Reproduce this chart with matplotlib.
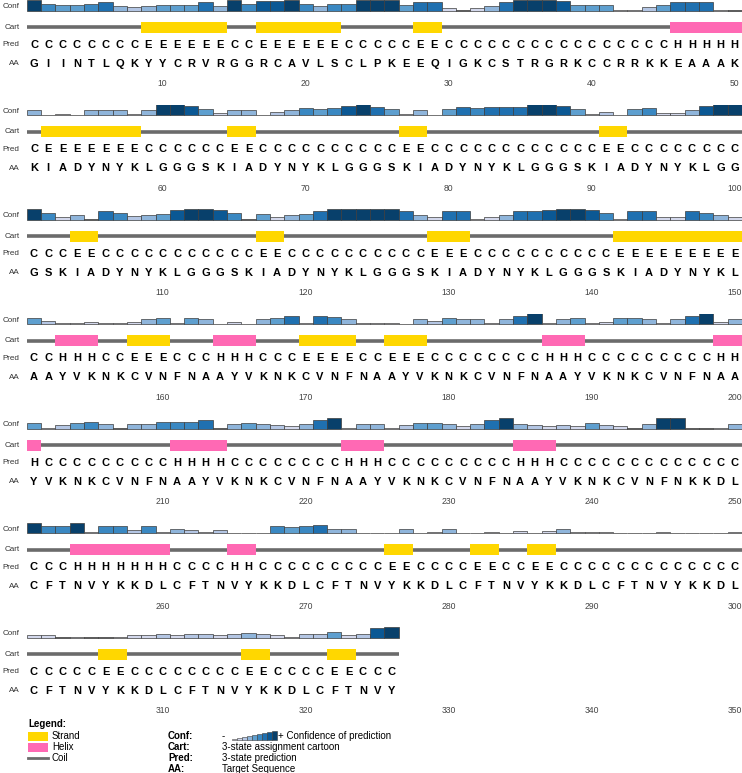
import matplotlib
matplotlib.use('Agg')
import matplotlib.pyplot as plt
from matplotlib.patches import Rectangle

plt.rcParams['font.family'] = ['Liberation Sans', 'DejaVu Sans']

# --- data, one string / list per row of 50 ---
sequence = [
    "GIINTLQKYYCRVRGGRCAVLSCLPKEEQIGKCSTRGRKCCRRKKEAAAK",
    "KIADYNYKLGGGSKIADYNYKLGGGSKIADYNYKLGGGSKIADYNYKLGG",
    "GSKIADYNYKLGGGSKIADYNYKLGGGSKIADYNYKLGGGSKIADYNYKL",
    "AAYVKNKCVNFNAAYVKNKCVNFNAAYVKNKCVNFNAAYVKNKCVNFNAA",
    "YVKNKCVNFNAAYVKNKCVNFNAAYVKNKCVNFNAAYVKNKCVNFNKKDL",
    "CFTNVYKKDLCFTNVYKKDLCFTNVYKKDLCFTNVYKKDLCFTNVYKKDL",
    "CFTNVYKKDLCFTNVYKKDLCFTNVY",
]

prediction = [
    "CCCCCCCCEEEEEECCEEEEEECCCCCEECCCCCCCCCCCCCCCCHHHHH",
    "CEEEEEEECCCCCCEECCCCCCCCCCEECCCCCCCCCCCCEECCCCCCCC",
    "CCCEECCCCCCCCCCCEECCCCCCCCCCEEECCCCCCCCCCEEEEEEEEE",
    "CCHHHCCEEECCCHHHCCCEEEECCEEECCCCCCCCHHHCCCCCCCCCHH",
    "HCCCCCCCCCHHHHCCCCCCCCHHHCCCCCCCCCHHHCCCCCCCCCCCCC",
    "CCCHHHHHHHCCCCHHCCCCCCCCCEECCCCEECCEECCCCCCCCCCCCC",
    "CCCCCEECCCCCCCCEECCCCEECCC",
]

confidence = [
    [9, 6, 5, 5, 6, 7, 4, 3, 4, 5, 5, 5, 7, 4, 9, 6, 8, 8, 9, 6, 4, 6, 6, 9, 9,
     9, 5, 7, 7, 2, 0, 2, 4, 7, 9, 9, 9, 8, 5, 5, 5, 1, 1, 3, 5, 7, 7, 7, 1, 0],
    [4, 0, 1, 0, 4, 4, 4, 1, 4, 9, 9, 8, 5, 2, 4, 4, 0, 3, 4, 6, 5, 6, 8, 9, 7,
     5, 1, 4, 0, 5, 7, 6, 7, 7, 7, 9, 9, 8, 5, 1, 3, 0, 5, 6, 2, 2, 4, 8, 9, 9],
    [9, 6, 2, 4, 0, 7, 6, 3, 4, 5, 8, 9, 9, 8, 6, 0, 5, 2, 4, 5, 7, 9, 9, 9, 9,
     9, 7, 4, 2, 7, 7, 1, 2, 4, 7, 7, 8, 9, 9, 8, 6, 1, 7, 7, 2, 2, 7, 6, 4, 2],
    [5, 3, 1, 1, 2, 1, 1, 2, 4, 5, 1, 5, 4, 0, 2, 0, 4, 5, 7, 1, 7, 6, 4, 1, 1,
     1, 0, 4, 3, 5, 4, 4, 1, 4, 7, 9, 1, 4, 5, 1, 2, 5, 5, 4, 1, 4, 7, 9, 2, 4],
    [5, 1, 3, 5, 6, 4, 0, 4, 4, 6, 6, 6, 7, 0, 4, 5, 4, 3, 2, 4, 7, 9, 1, 4, 4,
     1, 3, 5, 5, 4, 2, 4, 7, 9, 4, 3, 2, 3, 2, 5, 3, 2, 0, 4, 9, 9, 0, 0, 1, 4],
    [9, 6, 6, 9, 1, 6, 6, 3, 6, 1, 4, 3, 1, 3, 0, 0, 0, 6, 5, 6, 7, 4, 4, 0, 0,
     0, 4, 0, 1, 4, 0, 0, 1, 0, 2, 0, 2, 4, 1, 1, 1, 0, 0, 0, 1, 0, 0, 0, 0, 1],
    [2, 2, 0, 1, 0, 0, 1, 2, 2, 3, 2, 3, 3, 2, 3, 4, 3, 2, 1, 3, 3, 5, 2, 3, 8, 9],
]

conf_colors = ['#5a5a5a', '#ecedf6', '#d3d8ec', '#b4c6e4', '#8fb5db',
               '#5e9fcf', '#3a88c2', '#1f70b0', '#0b5894', '#08406b']
ss_colors = {'E': '#FFD700', 'H': '#FF69B4'}
coil_color = '#6b6b6b'

# --- layout in pixels ---
W, H = 742, 773
res_w = 14.3          # width of one residue
x_first = 34.0        # centre of the first residue of a row
cart_y0 = 27.3        # cart line of the first row
row_gap = 104.5
block_len = 50
conf_base, conf_unit = -16.5, 1.2
pred_y, aa_y, tick_y = 17.5, 36.5, 56.5

fig = plt.figure(figsize=(W / 100, H / 100), dpi=100)

for b, seq in enumerate(sequence):
    start = b * block_len + 1
    n = len(seq)
    top = cart_y0 + b * row_gap - 27
    hgt = 92
    ax = fig.add_axes([0, 1 - (top + hgt) / H, 1, hgt / H])
    lo = start - x_first / res_w
    ax.set_xlim(lo, lo + W / res_w)
    ax.set_ylim(hgt - 27, -27)
    ax.axis('off')

    res = list(range(start, start + n))

    # confidence bars
    conf = confidence[b]
    heights = [-(c * conf_unit if c > 0 else 0.7) for c in conf]
    ax.bar(res, heights, width=1, bottom=conf_base,
           color=[conf_colors[c] for c in conf],
           edgecolor='#3c3c3c', linewidth=0.5)

    # cartoon: coil line then strand / helix boxes
    ax.plot([start - 0.5, start + n - 0.5], [0, 0], color=coil_color,
            lw=2.6, solid_capstyle='butt', zorder=1)
    pred = prediction[b]
    i = 0
    while i < n:
        j = i
        while j < n and pred[j] == pred[i]:
            j += 1
        if pred[i] in ss_colors:
            ax.add_patch(Rectangle((start + i - 0.5, -5.6), j - i, 11.2,
                                   facecolor=ss_colors[pred[i]],
                                   edgecolor='none', zorder=2))
        i = j

    for r, p, a in zip(res, pred, seq):
        ax.text(r, pred_y, p, ha='center', va='center', fontsize=8,
                fontweight='bold', color='black')
        ax.text(r, aa_y, a, ha='center', va='center', fontsize=8,
                fontweight='bold', color='black')

    for t in range(start + 9, start + block_len, 10):
        ax.text(t, tick_y, str(t), ha='center', va='center', fontsize=6.2,
                color='#444444')

    lab_x = lo + 19.5 / res_w
    for lab, y in [('Conf', conf_base - 4), ('Cart', 0), ('Pred', pred_y),
                   ('AA', aa_y)]:
        ax.text(lab_x, y, lab, ha='right', va='center', fontsize=5.8,
                color='#333333')

# --- legend ---
lg = fig.add_axes([0, 0, 1, 60 / H])
lg.set_xlim(0, W)
lg.set_ylim(H, H - 60)
lg.axis('off')

lg.text(28, 724, 'Legend:', fontsize=7, fontweight='bold', va='center')
legend_rows = [736, 747, 758, 769]
for (name, col), y in zip([('Strand', '#FFD700'), ('Helix', '#FF69B4')],
                          legend_rows[:2]):
    lg.add_patch(Rectangle((28, y - 4.5), 20, 9, facecolor=col,
                           edgecolor='none'))
    lg.text(52, y, name, fontsize=7, va='center')
lg.plot([28, 48], [legend_rows[2], legend_rows[2]], color=coil_color, lw=2)
lg.text(52, legend_rows[2], 'Coil', fontsize=7, va='center')

keys = ['Conf:', 'Cart:', 'Pred:', 'AA:']
descr = ['', '3-state assignment cartoon', '3-state prediction',
         'Target Sequence']
for k, d, y in zip(keys, descr, legend_rows):
    lg.text(168, y, k, fontsize=7, fontweight='bold', va='center')
    if d:
        lg.text(222, y, d, fontsize=7, va='center')

y = legend_rows[0]
lg.text(222, y, '-', fontsize=7, va='center')
lvl = list(range(1, 10))
lg.bar([232 + 5 * k for k in range(len(lvl))], [-(v * 1.0) for v in lvl],
       width=5, bottom=y + 4, color=[conf_colors[v] for v in lvl],
       edgecolor='#3c3c3c', linewidth=0.4, align='edge')
lg.text(278, y, '+ Confidence of prediction', fontsize=7, va='center')

fig.savefig('out.png', dpi=100)
